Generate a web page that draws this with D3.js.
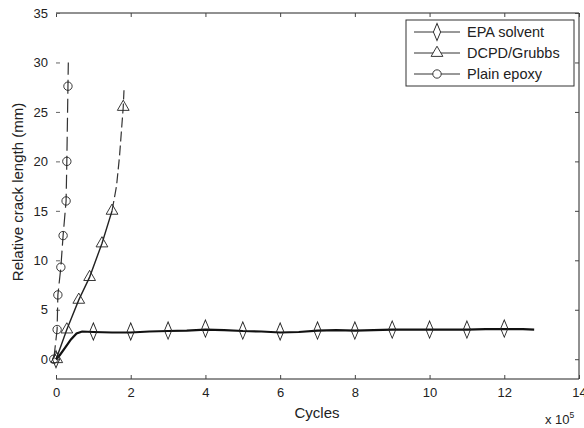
<!DOCTYPE html>
<html>
<head>
<meta charset="utf-8">
<script src="https://cdn.jsdelivr.net/npm/d3@7"></script>
<style>
body { margin: 0; background: #fff; }
text { font-family: "Liberation Sans", Arial, sans-serif; fill: #222; }
</style>
</head>
<body>
<script>
// cycles in units of 1e5, crack length in mm
var epaX = [0, 0.1, 0.25, 0.4, 0.55, 0.7, 1, 1.5, 2, 2.5, 3, 3.5, 4, 4.5, 5, 5.5, 6, 6.5, 7, 7.5, 8, 8.5, 9, 9.5, 10, 10.5, 11, 11.5, 12, 12.5, 12.8];
var epaY = [0, 0.4, 1.2, 2.0, 2.6, 2.8, 2.75, 2.7, 2.7, 2.8, 2.85, 2.9, 3.0, 2.95, 2.85, 2.8, 2.7, 2.75, 2.9, 2.95, 2.9, 2.95, 3.0, 3.0, 3.0, 3.0, 3.0, 3.05, 3.05, 3.05, 3.0];
var epaMarkX = [0, 1, 2, 3, 4, 5, 6, 7, 8, 9, 10, 11, 12];
var epaMarkY = [0, 2.8, 2.8, 2.9, 3.1, 2.9, 2.8, 2.9, 2.9, 3.0, 3.0, 3.0, 3.1];

var dcpdX = [0, 0.1, 0.29, 0.61, 0.9, 1.23, 1.5, 1.62, 1.7, 1.76, 1.8, 1.82];
var dcpdY = [0, 1.0, 3.0, 6.0, 8.3, 11.7, 15.0, 17.5, 20.5, 23.5, 25.5, 27.2];
var dcpdMarkX = [0.02, 0.29, 0.61, 0.9, 1.23, 1.5, 1.8];
var dcpdMarkY = [0, 3.0, 6.0, 8.3, 11.7, 15.0, 25.5];

var epoxyX = [-0.06, 0.03, 0.05, 0.13, 0.19, 0.27, 0.29, 0.32, 0.33];
var epoxyY = [0, 3.0, 6.5, 9.3, 12.5, 16.0, 20.0, 27.6, 30.0];
var epoxyMarkX = [-0.06, 0.03, 0.05, 0.13, 0.19, 0.27, 0.29, 0.32];
var epoxyMarkY = [0, 3.0, 6.5, 9.3, 12.5, 16.0, 20.0, 27.6];

var xTicks = [0, 2, 4, 6, 8, 10, 12, 14];
var yTicks = [0, 5, 10, 15, 20, 25, 30, 35];
var legendNames = ["EPA solvent", "DCPD/Grubbs", "Plain epoxy"];

var w = 584, h = 428;
var pLeft = 56, pRight = 579, pTop = 13, pBottom = 379;

var svg = d3.select("body").append("svg")
    .attr("width", w)
    .attr("height", h);

var x = d3.scaleLinear().domain([0, 14]).range([pLeft, pRight]);
var y = d3.scaleLinear().domain([-2, 35]).range([pBottom, pTop]);

// frame (left spine is barely visible in the scan)
svg.append("line").attr("x1", pLeft).attr("x2", pRight).attr("y1", pBottom).attr("y2", pBottom)
   .attr("stroke", "#222");
svg.append("line").attr("x1", pLeft).attr("x2", pRight).attr("y1", pTop).attr("y2", pTop)
   .attr("stroke", "#222");
svg.append("line").attr("x1", pRight).attr("x2", pRight).attr("y1", pTop).attr("y2", pBottom)
   .attr("stroke", "#222");

// ticks pointing inward
var xAxis = d3.axisBottom(x).tickValues(xTicks).tickSize(-4).tickPadding(9).tickFormat(d3.format("d"));
var gx = svg.append("g").attr("transform", "translate(0," + pBottom + ")").call(xAxis);
gx.select(".domain").remove();
gx.selectAll(".tick line").attr("stroke", "#444");
gx.selectAll("text").attr("font-size", 13).attr("fill", "#222");

var gxTop = svg.append("g").attr("transform", "translate(0," + pTop + ")")
    .call(d3.axisTop(x).tickValues(xTicks).tickSize(-4).tickFormat(""));
gxTop.select(".domain").remove();
gxTop.selectAll(".tick line").attr("stroke", "#444");

var yAxis = d3.axisLeft(y).tickValues(yTicks).tickSize(-4).tickPadding(8).tickFormat(d3.format("d"));
var gy = svg.append("g").attr("transform", "translate(" + pLeft + ",0)").call(yAxis);
gy.select(".domain").remove();
gy.selectAll(".tick line").attr("stroke", "#666");
gy.selectAll("text").attr("font-size", 13).attr("fill", "#222");

var gyR = svg.append("g").attr("transform", "translate(" + pRight + ",0)")
    .call(d3.axisRight(y).tickValues(yTicks).tickSize(-4).tickFormat(""));
gyR.select(".domain").remove();
gyR.selectAll(".tick line").attr("stroke", "#444");

// axis labels
svg.append("text").attr("x", 317).attr("y", 418)
   .attr("text-anchor", "middle").attr("font-size", 15).text("Cycles");
svg.append("text")
   .attr("transform", "translate(23,192) rotate(-90)")
   .attr("text-anchor", "middle").attr("font-size", 15).text("Relative crack length (mm)");
var mult = svg.append("text").attr("x", 545).attr("y", 424).attr("font-size", 13);
mult.append("tspan").text("x 10");
mult.append("tspan").attr("dy", -6).attr("font-size", 8.5).text("5");

// lines
var line = d3.line()
    .x(function(d) { return x(d[0]); })
    .y(function(d) { return y(d[1]); });

function pairs(xs, ys) {
    return xs.map(function(v, i) { return [v, ys[i]]; });
}

var epoxyPts = pairs(epoxyX, epoxyY);
svg.append("path").datum(epoxyPts)
   .attr("d", line).attr("fill", "none")
   .attr("stroke", "#333").attr("stroke-width", 1.2)
   .attr("stroke-dasharray", "14,5");

var dcpdPts = pairs(dcpdX, dcpdY);
svg.append("path").datum(dcpdPts.slice(0, 7))
   .attr("d", line).attr("fill", "none")
   .attr("stroke", "#222").attr("stroke-width", 1.4);
svg.append("path").datum(dcpdPts.slice(6))
   .attr("d", line).attr("fill", "none")
   .attr("stroke", "#333").attr("stroke-width", 1.2)
   .attr("stroke-dasharray", "10,4");

svg.append("path").datum(pairs(epaX, epaY))
   .attr("d", line).attr("fill", "none")
   .attr("stroke", "#111").attr("stroke-width", 2.2);

// markers
function drawMarkers(pts, type) {
    var sym = type === "diamond" ? d3.symbolDiamond :
              type === "triangle" ? d3.symbolTriangle : d3.symbolCircle;
    var size = type === "diamond" ? 55 : type === "triangle" ? 60 : 55;
    svg.selectAll(null)
       .data(pts)
       .enter()
       .append("path")
       .attr("d", d3.symbol().type(sym).size(size))
       .attr("transform", function(d) {
            var sy = type === "diamond" ? "scale(0.9,1.25)" : "";
            return "translate(" + x(d[0]) + "," + y(d[1]) + ")" + sy;
       })
       .attr("fill", "none")
       .attr("stroke", "#222")
       .attr("stroke-width", 0.9);
}

drawMarkers(pairs(epoxyMarkX, epoxyMarkY), "circle");
drawMarkers(pairs(dcpdMarkX, dcpdMarkY), "triangle");
drawMarkers(pairs(epaMarkX, epaMarkY), "diamond");

// legend
var lg = svg.append("g");
lg.append("rect").attr("x", 406).attr("y", 20).attr("width", 168).attr("height", 66)
  .attr("fill", "#fff").attr("stroke", "#333").attr("stroke-width", 1);
var lgTypes = [d3.symbolDiamond, d3.symbolTriangle, d3.symbolCircle];
legendNames.forEach(function(name, i) {
    var ly = 32 + i * 21;
    lg.append("line").attr("x1", 414).attr("x2", 460).attr("y1", ly).attr("y2", ly)
      .attr("stroke", "#333").attr("stroke-width", 1);
    lg.append("path")
      .attr("d", d3.symbol().type(lgTypes[i]).size(i === 1 ? 60 : 55))
      .attr("transform", "translate(437," + ly + ")" + (i === 0 ? "scale(0.9,1.25)" : ""))
      .attr("fill", "#fff").attr("stroke", "#222").attr("stroke-width", 0.9);
    lg.append("text").attr("x", 467).attr("y", ly + 5)
      .attr("font-size", 14.5).text(name);
});
</script>
</body>
</html>
